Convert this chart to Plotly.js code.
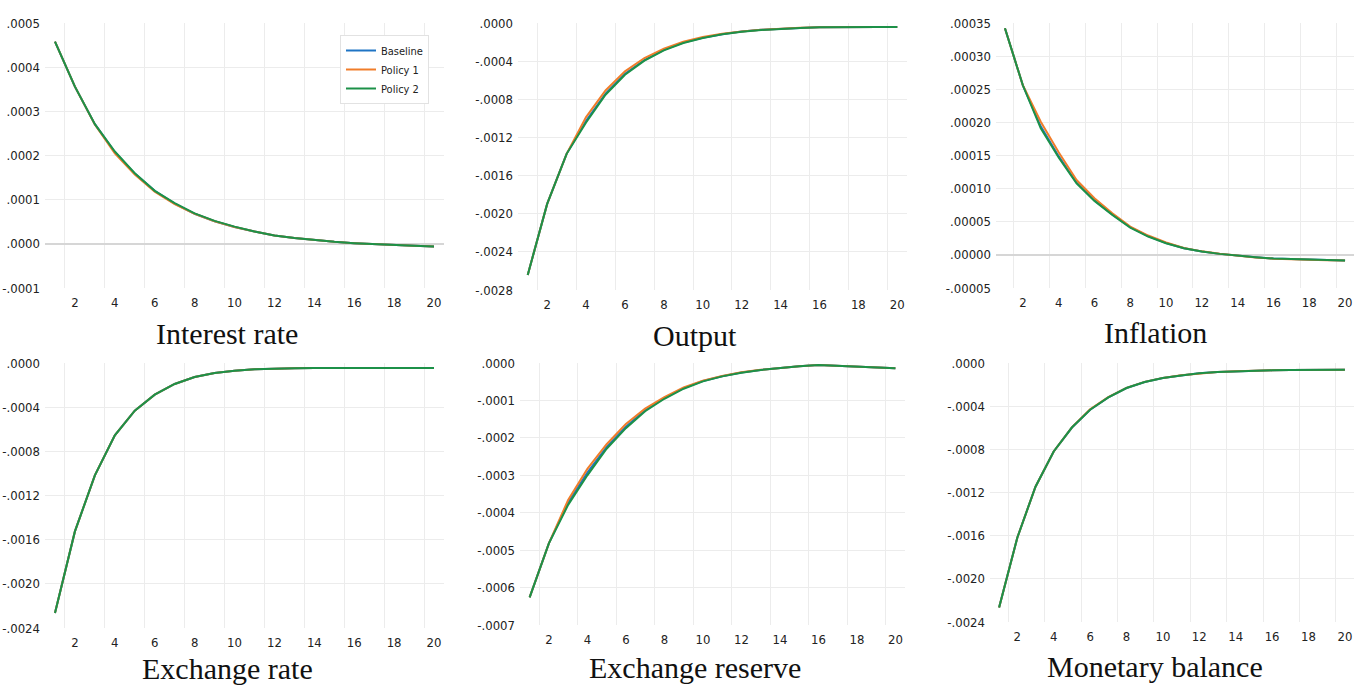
<!DOCTYPE html>
<html>
<head>
<meta charset="utf-8">
<script src="https://cdn.plot.ly/plotly-3.0.1.min.js"></script>
<style>html,body{margin:0;padding:0;background:#fff;}#chart{width:1365px;height:688px;}</style>
</head>
<body>
<div id="chart"></div>
<script>
// ---- data ----
const periods = [1,2,3,4,5,6,7,8,9,10,11,12,13,14,15,16,17,18,19,20];
const seriesNames = ["Baseline", "Policy 1", "Policy 2"];
const panelTitles = ["Interest rate", "Output", "Inflation", "Exchange rate", "Exchange reserve", "Monetary balance"];
const xTickVals = [2,4,6,8,10,12,14,16,18,20];
const xTickText = ["2","4","6","8","10","12","14","16","18","20"];

// Interest rate
const interestBaseline = [0.000458,0.000356,0.000271,0.000208,0.000159,0.000120,0.000091,0.000068,0.000051,0.000038,0.000028,0.000019,0.000013,0.000008,0.0000045,0.0000015,-0.000001,-0.000003,-0.0000045,-0.000006];
const interestPolicy1  = [0.000458,0.000356,0.000270,0.000205,0.000157,0.000118,0.000090,0.000068,0.000051,0.000038,0.000028,0.000019,0.000013,0.000008,0.0000045,0.0000015,-0.000001,-0.000003,-0.0000045,-0.000006];
const interestPolicy2  = [0.000458,0.000356,0.000271,0.000209,0.000160,0.000120,0.000092,0.000069,0.000052,0.000039,0.000028,0.000019,0.000013,0.000008,0.0000045,0.0000015,-0.000001,-0.000003,-0.0000045,-0.000006];
const interestTicks = [-0.0001,0,0.0001,0.0002,0.0003,0.0004,0.0005];
const interestTickText = ["-.0001",".0000",".0001",".0002",".0003",".0004",".0005"];

// Output
const outputBaseline = [-0.002642,-0.001897,-0.001372,-0.001025,-0.000740,-0.000532,-0.000388,-0.000282,-0.000206,-0.000154,-0.000117,-0.000090,-0.000072,-0.000059,-0.000052,-0.000045,-0.000042,-0.000042,-0.000042,-0.000042];
const outputPolicy1  = [-0.002642,-0.001897,-0.001372,-0.000987,-0.000707,-0.000507,-0.000367,-0.000269,-0.000196,-0.000147,-0.000113,-0.000088,-0.000071,-0.000058,-0.000051,-0.000045,-0.000042,-0.000042,-0.000042,-0.000042];
const outputPolicy2  = [-0.002642,-0.001897,-0.001372,-0.001043,-0.000752,-0.000542,-0.000395,-0.000287,-0.000210,-0.000157,-0.000119,-0.000091,-0.000073,-0.000059,-0.000052,-0.000045,-0.000042,-0.000042,-0.000042,-0.000042];
const outputTicks = [-0.0028,-0.0024,-0.0020,-0.0016,-0.0012,-0.0008,-0.0004,0];
const outputTickText = ["-.0028","-.0024","-.0020","-.0016","-.0012","-.0008","-.0004",".0000"];

// Inflation
const inflationBaseline = [0.000342,0.000256,0.000194,0.000149,0.000109,0.0000825,0.0000612,0.0000418,0.0000282,0.0000179,0.000010,0.000005,0.0000015,-0.0000015,-0.0000035,-0.0000055,-0.0000065,-0.0000075,-0.000008,-0.0000085];
const inflationPolicy1  = [0.000342,0.000256,0.000201,0.000155,0.000113,0.0000855,0.0000629,0.0000428,0.0000292,0.0000186,0.0000105,0.0000053,0.0000017,-0.0000015,-0.0000038,-0.0000058,-0.0000068,-0.0000078,-0.000008,-0.0000085];
const inflationPolicy2  = [0.000342,0.000256,0.000191,0.000147,0.000108,0.0000815,0.0000604,0.0000412,0.0000277,0.0000176,0.000010,0.000005,0.0000015,-0.0000015,-0.0000035,-0.0000055,-0.0000065,-0.0000075,-0.000008,-0.0000085];
const inflationTicks = [-0.00005,0,0.00005,0.00010,0.00015,0.00020,0.00025,0.00030,0.00035];
const inflationTickText = ["-.00005",".00000",".00005",".00010",".00015",".00020",".00025",".00030",".00035"];

// Exchange rate
const exrateBaseline = [-0.002264,-0.001525,-0.001017,-0.000655,-0.000432,-0.000287,-0.000190,-0.000127,-0.0000906,-0.0000694,-0.0000574,-0.0000513,-0.000048,-0.000046,-0.000045,-0.000045,-0.000045,-0.000045,-0.000045,-0.000045];
const exratePolicy1  = [-0.002264,-0.001525,-0.001017,-0.000655,-0.000432,-0.000287,-0.000190,-0.000127,-0.0000906,-0.0000694,-0.0000574,-0.0000513,-0.000048,-0.000046,-0.000046,-0.000046,-0.000046,-0.000046,-0.000046,-0.000046];
const exratePolicy2  = [-0.002264,-0.001525,-0.001017,-0.000655,-0.000432,-0.000287,-0.000190,-0.000127,-0.0000906,-0.0000694,-0.0000574,-0.0000513,-0.000048,-0.000046,-0.000045,-0.000045,-0.000045,-0.000045,-0.000045,-0.000045];
const exrateTicks = [-0.0024,-0.0020,-0.0016,-0.0012,-0.0008,-0.0004,0];
const exrateTickText = ["-.0024","-.0020","-.0016","-.0012","-.0008","-.0004",".0000"];

// Exchange reserve
const reserveBaseline = [-0.000626,-0.000482,-0.000373,-0.000293,-0.000224,-0.000170,-0.000126,-0.0000935,-0.0000672,-0.0000482,-0.0000352,-0.0000256,-0.0000185,-0.0000133,-0.0000089,-0.0000054,-0.000008,-0.0000107,-0.0000134,-0.0000143];
const reservePolicy1  = [-0.000626,-0.000482,-0.000366,-0.000283,-0.000217,-0.000163,-0.000122,-0.0000910,-0.0000650,-0.0000470,-0.0000345,-0.0000250,-0.0000182,-0.0000131,-0.0000088,-0.0000054,-0.000008,-0.0000107,-0.0000134,-0.0000143];
const reservePolicy2  = [-0.000626,-0.000482,-0.000379,-0.000300,-0.000229,-0.000174,-0.000129,-0.0000955,-0.0000687,-0.0000490,-0.0000357,-0.0000259,-0.0000187,-0.0000134,-0.0000089,-0.0000054,-0.000008,-0.0000107,-0.0000134,-0.0000143];
const reserveTicks = [-0.0007,-0.0006,-0.0005,-0.0004,-0.0003,-0.0002,-0.0001,0];
const reserveTickText = ["-.0007","-.0006","-.0005","-.0004","-.0003","-.0002","-.0001",".0000"];

// Monetary balance
const moneyBaseline = [-0.002266,-0.001619,-0.001146,-0.000820,-0.000598,-0.000433,-0.000319,-0.000232,-0.000176,-0.000139,-0.000115,-0.000096,-0.000084,-0.000077,-0.000071,-0.000068,-0.000066,-0.000065,-0.000063,-0.000062];
const moneyPolicy1  = [-0.002266,-0.001619,-0.001146,-0.000820,-0.000596,-0.000428,-0.000316,-0.000230,-0.000175,-0.000138,-0.000114,-0.000096,-0.000084,-0.000077,-0.000071,-0.000068,-0.000066,-0.000065,-0.000063,-0.000062];
const moneyPolicy2  = [-0.002266,-0.001619,-0.001146,-0.000820,-0.000598,-0.000433,-0.000319,-0.000232,-0.000176,-0.000139,-0.000115,-0.000096,-0.000084,-0.000077,-0.000071,-0.000068,-0.000066,-0.000065,-0.000063,-0.000062];
const moneyTicks = [-0.0024,-0.0020,-0.0016,-0.0012,-0.0008,-0.0004,0];
const moneyTickText = ["-.0024","-.0020","-.0016","-.0012","-.0008","-.0004",".0000"];

// ---- build ----
const W = 1365, H = 688;
const colors = ["#1f74c4", "#f07d2a", "#1c9148"];
const panels = [
  {series:[interestBaseline, interestPolicy1, interestPolicy2], ticks:interestTicks, text:interestTickText, px:[45,444], py:[23,288], tx:227, ty:333},
  {series:[outputBaseline, outputPolicy1, outputPolicy2], ticks:outputTicks, text:outputTickText, px:[518,907], py:[23,290], tx:695, ty:335},
  {series:[inflationBaseline, inflationPolicy1, inflationPolicy2], ticks:inflationTicks, text:inflationTickText, px:[996,1354], py:[23,288], tx:1155, ty:332},
  {series:[exrateBaseline, exratePolicy1, exratePolicy2], ticks:exrateTicks, text:exrateTickText, px:[45,444], py:[363,628], tx:227, ty:668},
  {series:[reserveBaseline, reservePolicy1, reservePolicy2], ticks:reserveTicks, text:reserveTickText, px:[520,905], py:[363,625], tx:695, ty:667},
  {series:[moneyBaseline, moneyPolicy1, moneyPolicy2], ticks:moneyTicks, text:moneyTickText, px:[990,1354], py:[363,622], tx:1155, ty:666}
];

const tickFamily = "DejaVu Sans Condensed, Liberation Sans Narrow, Roboto, sans-serif";
const tickFont = {family: tickFamily, size: 13, color: "#222"};
const traces = [];
const layout = {
  width: W, height: H,
  margin: {l:0, r:0, t:0, b:0},
  paper_bgcolor: "#fff", plot_bgcolor: "#fff",
  showlegend: true,
  hovermode: false,
  legend: {
    x: 340/W, y: 1 - 35/H, xanchor: "left", yanchor: "top",
    bgcolor: "#fff", bordercolor: "#e2e2e2", borderwidth: 1,
    font: {family: tickFamily, size: 11, color: "#222"},
    tracegroupgap: 0
  },
  annotations: []
};

panels.forEach((p, i) => {
  const n = i + 1;
  const xa = n === 1 ? "x" : "x" + n;
  const ya = n === 1 ? "y" : "y" + n;
  p.series.forEach((vals, s) => {
    traces.push({
      type: "scatter", mode: "lines",
      x: periods, y: vals,
      name: seriesNames[s],
      showlegend: i === 0,
      line: {color: colors[s], width: 2},
      xaxis: xa, yaxis: ya
    });
  });
  const ymin = p.ticks[0], ymax = p.ticks[p.ticks.length - 1];
  const zeroInside = ymin < 0 && ymax > 0;
  layout["xaxis" + (n === 1 ? "" : n)] = {
    domain: [p.px[0]/W, p.px[1]/W],
    anchor: ya,
    range: [0.5, 20.5],
    tickmode: "array", tickvals: xTickVals, ticktext: xTickText,
    showgrid: false, zeroline: false, showline: false,
    ticks: "", tickfont: tickFont, ticklabelstandoff: 5,
    minor: {tickmode: "linear", tick0: 1.5, dtick: 2, showgrid: true, gridcolor: "#ececec", gridwidth: 1, ticks: ""},
    fixedrange: true
  };
  layout["yaxis" + (n === 1 ? "" : n)] = {
    domain: [1 - p.py[1]/H, 1 - p.py[0]/H],
    anchor: xa,
    range: [ymin, ymax],
    tickmode: "array", tickvals: p.ticks, ticktext: p.text,
    showgrid: true, gridcolor: "#ececec", gridwidth: 1,
    zeroline: zeroInside, zerolinecolor: "#d6d6d6", zerolinewidth: 2,
    showline: false, ticks: "", tickfont: tickFont, ticklabelstandoff: 4,
    fixedrange: true
  };
  layout.annotations.push({
    xref: "paper", yref: "paper",
    x: p.tx / W, y: 1 - p.ty / H,
    xanchor: "center", yanchor: "middle",
    text: panelTitles[i], showarrow: false,
    font: {family: "Liberation Serif, DejaVu Serif, serif", size: 30, color: "#111"}
  });
});

Plotly.newPlot("chart", traces, layout, {displayModeBar: false, staticPlot: true});
</script>
</body>
</html>
